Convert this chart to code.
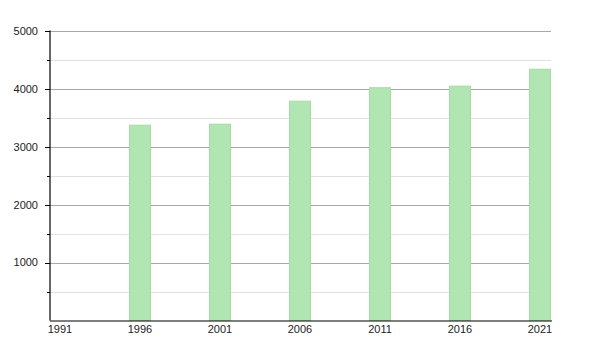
<!DOCTYPE html>
<html>
<head>
<meta charset="utf-8">
<script src="https://cdn.jsdelivr.net/npm/d3@7"></script>
<style>
  body { margin: 0; background: #fff; }
  text { font-family: 'Liberation Sans', Arial, sans-serif; }
</style>
</head>
<body>
<div id="chart"></div>
<script>
const years = [1996, 2001, 2006, 2011, 2016, 2021]
const population = [3373, 3390, 3788, 4020, 4047, 4340]
const xTicks = [1991, 1996, 2001, 2006, 2011, 2016, 2021]
const yMajor = [1000, 2000, 3000, 4000, 5000]
const yMinor = [500, 1500, 2500, 3500, 4500]

const width = 600
const height = 350
const margin = { top: 31, left: 50, right: 49, bottom: 30 }

const svg = d3
  .select('#chart')
  .append('svg')
  .attr('width', width)
  .attr('height', height)

const x = d3
  .scaleLinear()
  .domain([1991, 2021])
  .range([60, 540])

const y = d3
  .scaleLinear()
  .domain([0, 5000])
  .range([height - margin.bottom + 0.5, margin.top])

const right = width - margin.right

// minor grid
svg
  .append('g')
  .selectAll('line')
  .data(yMinor)
  .enter()
  .append('line')
  .attr('x1', margin.left)
  .attr('x2', right)
  .attr('y1', d => Math.round(y(d)) + 0.5)
  .attr('y2', d => Math.round(y(d)) + 0.5)
  .attr('stroke', '#e2e2e2')

// major grid
svg
  .append('g')
  .selectAll('line')
  .data(yMajor)
  .enter()
  .append('line')
  .attr('x1', margin.left)
  .attr('x2', right)
  .attr('y1', d => Math.round(y(d)) + 0.5)
  .attr('y2', d => Math.round(y(d)) + 0.5)
  .attr('stroke', '#a8a8a8')

// bars
const barWidth = 21
svg
  .append('g')
  .selectAll('rect')
  .data(years)
  .enter()
  .append('rect')
  .attr('x', d => x(d) - barWidth / 2)
  .attr('width', barWidth)
  .attr('y', (d, i) => y(population[i]))
  .attr('height', (d, i) => y(0) - y(population[i]))
  .attr('fill', '#b1e5b1')
  .attr('stroke', '#a6dba6')
  .attr('stroke-width', 1)

// y axis
const yAxis = svg
  .append('g')
  .attr('transform', `translate(${margin.left},0)`)

yAxis
  .append('line')
  .attr('x1', 0)
  .attr('x2', 0)
  .attr('y1', y(5000) - 0.5)
  .attr('y2', y(0))
  .attr('stroke', '#000')
  .attr('stroke-width', 1.2)

yAxis
  .selectAll('.major')
  .data(yMajor)
  .enter()
  .append('line')
  .attr('x1', -5)
  .attr('x2', 0)
  .attr('y1', d => Math.round(y(d)) + 0.5)
  .attr('y2', d => Math.round(y(d)) + 0.5)
  .attr('stroke', '#000')

yAxis
  .selectAll('.minor')
  .data(yMinor)
  .enter()
  .append('line')
  .attr('x1', -3)
  .attr('x2', 0)
  .attr('y1', d => Math.round(y(d)) + 0.5)
  .attr('y2', d => Math.round(y(d)) + 0.5)
  .attr('stroke', '#000')

yAxis
  .selectAll('text')
  .data(yMajor)
  .enter()
  .append('text')
  .attr('x', -12)
  .attr('y', d => y(d))
  .attr('dy', '0.35em')
  .attr('text-anchor', 'end')
  .attr('font-size', 11)
  .attr('fill', '#222')
  .text(d => d)

// x axis
const xAxis = svg.append('g')

xAxis
  .append('line')
  .attr('x1', margin.left)
  .attr('x2', right + 1)
  .attr('y1', y(0) + 0.5)
  .attr('y2', y(0) + 0.5)
  .attr('stroke', '#000')
  .attr('stroke-width', 1.2)

xAxis
  .selectAll('text')
  .data(xTicks)
  .enter()
  .append('text')
  .attr('x', d => x(d))
  .attr('y', y(0) + 12)
  .attr('text-anchor', 'middle')
  .attr('font-size', 11)
  .attr('fill', '#222')
  .text(d => d)
</script>
</body>
</html>
